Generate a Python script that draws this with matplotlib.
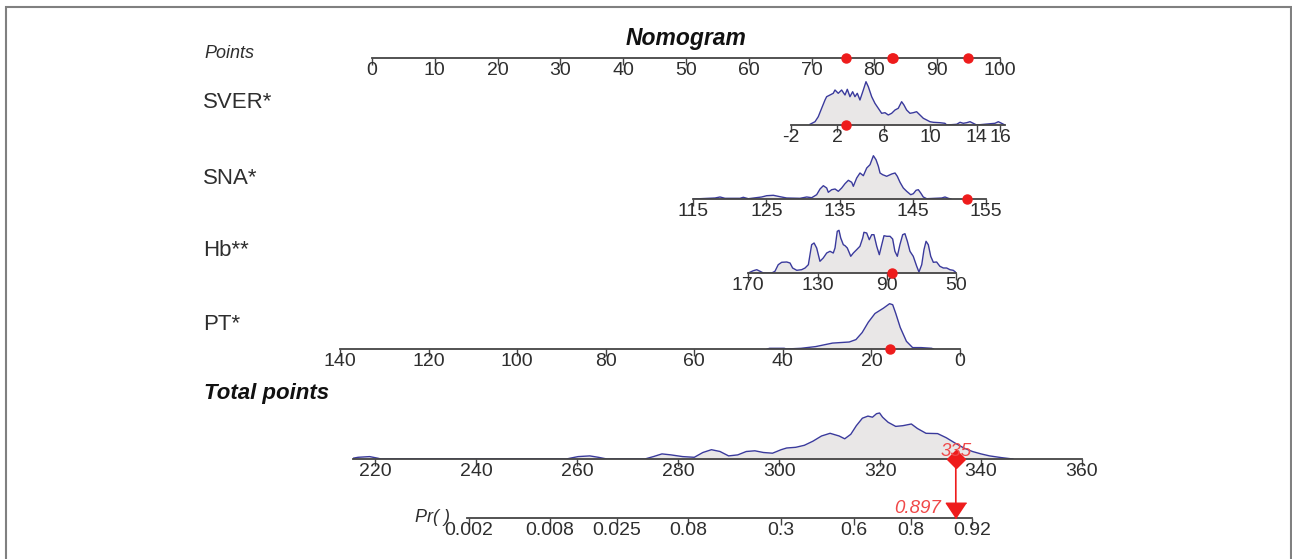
import numpy as np
import matplotlib
matplotlib.use("Agg")
import matplotlib.pyplot as plt
from matplotlib.patches import Rectangle, ConnectionPatch
from matplotlib.ticker import NullLocator

plt.rcParams['font.family'] = ['Liberation Sans', 'DejaVu Sans']
plt.rcParams['axes.unicode_minus'] = False

# Nomogram values
points_ticks = [0, 10, 20, 30, 40, 50, 60, 70, 80, 90, 100]
points_marks = [75.4, 82.8, 82.9, 94.9]

sver_ticks = [-2, 2, 6, 10, 14, 16]
sver_x = [-0.36, 0.07, 0.35, 0.64, 0.93, 1.07, 1.36, 1.64, 1.79, 2.07, 2.36, 2.65, 2.85,
          3.08, 3.31, 3.51, 3.71, 3.94, 4.23, 4.46, 4.66, 4.95, 5.23, 5.52, 5.81, 6.10,
          6.38, 6.67, 6.96, 7.24, 7.53, 7.73, 7.96, 8.25, 8.53, 8.82, 9.11, 9.40, 9.69,
          9.97, 10.26, 10.83, 11.26, 11.41, 12.27, 12.56, 12.84, 13.13, 13.42, 13.70,
          13.99, 15.57, 15.86, 16.14, 16.43]
sver_d = [0.7, 3.3, 8.3, 16.7, 25, 28.3, 30, 31.7, 35, 31.7, 35, 30, 35.7,
          28.3, 33.3, 28.3, 31.7, 25, 35, 43.3, 38.3, 28.3, 21.7, 16.7, 11.7, 12.3,
          10, 11.7, 15, 16.7, 23.3, 20, 15, 11.7, 12.3, 13.3, 10, 6.7, 5,
          3.3, 2.7, 2.3, 1.7, 0, 0.7, 2.7, 1.7, 2.3, 3.3, 1.7,
          0, 1.7, 3.3, 1.7, 0]
sver_mark = 2.7

sna_ticks = [115, 125, 135, 145, 155]
sna_x = [115.0, 117.97, 118.65, 119.33, 121.38, 121.83, 122.52, 124.34, 125.03, 125.94,
         126.85, 127.76, 129.58, 130.5, 131.18, 131.86, 132.32, 132.77, 133.23, 133.45,
         133.91, 134.37, 134.82, 135.28, 135.73, 136.19, 136.65, 136.87, 137.33, 137.78,
         138.24, 138.7, 139.15, 139.61, 139.97, 140.29, 140.52, 140.88, 141.43, 142.11,
         142.57, 142.88, 143.25, 143.7, 144.16, 144.71, 145.07, 145.44, 145.75, 146.08,
         146.43, 146.9, 148.95, 149.4, 149.85, 150.2]
sna_d = [0, 1, 2, 0.7, 0.7, 1.7, 0.3, 2, 3.3, 3.7,
         2.3, 1, 0.7, 2, 1.3, 4.3, 10, 13.3, 11, 6.7,
         9.3, 10, 7.7, 11, 15.3, 18.7, 16.7, 12.7, 21, 26,
         23.3, 31, 34.3, 43.3, 39.3, 32.7, 26, 24.3, 22.7, 25,
         26, 22.7, 16.7, 11, 7.7, 4.3, 5.3, 8.7, 9.3, 6,
         2, 0.3, 1, 2, 0.7, 0]
sna_mark = 152.45

hb_ticks = [170, 130, 90, 50]
hb_x = [170, 167.1, 165.1, 163.2, 161.3, 156.5, 154.6, 152.7, 150.7, 147.8, 145.9, 144.4,
        142.0, 139.2, 137.2, 135.3, 133.4, 132.0, 130.5, 128.6, 126.7, 124.7, 122.8,
        120.9, 119.9, 118.6, 117.6, 116.6, 115.1, 114.1, 112.8, 110.8, 109.3, 107.4,
        105.5, 103.9, 103.2, 101.6, 100.1, 98.7, 97.4, 95.8, 94.3, 92.9, 91.6, 90.0,
        88.1, 86.6, 85.3, 83.9, 82.4, 80.8, 79.5, 78.1, 76.6, 74.7, 72.7, 71.4, 69.8,
        68.5, 67.3, 66.0, 64.6, 63.1, 61.2, 59.3, 57.3, 55.4, 53.5, 51.6, 49.6]
hb_d = [0, 2.3, 3.3, 1.7, 0, 0, 1.7, 8.3, 10.7, 11, 10, 5,
        2.7, 3.3, 5, 8.3, 28.3, 30, 25, 11.7, 15, 20, 21.7,
        20, 25, 41.7, 42.7, 35, 28.3, 27.3, 25, 16.7, 20, 23.3,
        26.7, 35, 40.7, 40, 33.3, 38.3, 38.3, 26.7, 18.3, 28.3, 37.3, 36.7,
        36.7, 34, 21.7, 16.7, 28.3, 38.3, 39.3, 31.7, 21.7, 16.7, 6.7, 1, 8.3,
        23.3, 31.7, 28.3, 16.7, 10.7, 11, 6.7, 5, 5, 3.3, 2.7, 0]
hb_mark = 87.2

pt_ticks = [140, 120, 100, 80, 60, 40, 20, 0]
pt_x = [43.5, 43.0, 39.7, 39.2, 35.9, 32.6, 28.8, 25.0, 23.5, 22.1, 20.7, 19.2, 17.3,
        15.9, 15.2, 14.5, 13.5, 12.1, 10.7, 8.8, 6.4, 6.0]
pt_d = [0, 0.7, 0.7, 0, 0.7, 2.4, 5.9, 7, 9.4, 16.4, 26.8, 35.5, 40.8,
        45.3, 44.3, 35.5, 21.6, 7.7, 1.4, 1.4, 0.7, 0]
pt_mark = 15.7

total_ticks = [220, 240, 260, 280, 300, 320, 340, 360]
total_x = [214.8, 216.6, 218.9, 220.6, 221.1, 257.9, 258.5, 260.2, 262.5, 264.2, 265.9,
           273.4, 275.1, 276.8, 278.6, 280.9, 283.2, 284.9, 286.6, 288.3, 290.0, 291.8,
           293.5, 295.2, 296.9, 298.7, 300.4, 301.5, 303.3, 305.0, 306.7, 308.4, 310.1,
           311.9, 313.0, 314.2, 315.3, 316.5, 317.6, 318.5, 319.3, 319.9, 320.5, 321.6,
           323.1, 324.5, 326.2, 327.4, 329.1, 331.4, 333.1, 334.8, 336.6, 338.3, 340.0,
           341.7, 344.0, 346.3]
total_d = [0, 1.7, 2.4, 0.7, 0, 0, 0.7, 2.4, 3.1, 1.7, 0,
           0, 2.4, 5.1, 4.1, 2.4, 1.7, 6.5, 9.3, 7.5, 3.1, 4.1,
           7.5, 8.2, 6.5, 5.8, 9.3, 11, 11.7, 13.7, 17.8, 23, 25.7,
           23, 20.2, 24.7, 33.3, 40.8, 42.9, 41.8, 45.3, 46, 41.8, 36.7,
           32.6, 33.3, 35, 30.5, 25.7, 25.4, 21.3, 16.1, 11, 7.5, 5.1,
           3.1, 1.4, 0]
total_score = 335

pr_ticks = [0.002, 0.008, 0.025, 0.08, 0.3, 0.6, 0.8, 0.92]
pr_labels = ['0.002', '0.008', '0.025', '0.08', '0.3', '0.6', '0.8', '0.92']
pr_value = 0.897

FILL = '#e9e7e7'
EDGE = '#3a3a9c'
RED = '#ee1c1c'
TXT = '#2e2e2e'

W, H = 1292, 559
fig = plt.figure(figsize=(W / 100, H / 100), dpi=100)

# grey frame round the picture
fig.add_artist(Rectangle((6 / W, -0.05), 1285 / W, 1.05 - 7 / H, transform=fig.transFigure,
                         fill=False, edgecolor='#808080', linewidth=1.5))


def add_row(px_left, px_right, line_y, lo, hi, ticks, labels=None, scale=None):
    ax = fig.add_axes([px_left / W, 1 - line_y / H, (px_right - px_left) / W, 52 / H])
    if scale:
        ax.set_xscale(scale)
    ax.set_xlim(lo, hi)
    ax.set_ylim(0, 52)
    ax.patch.set_visible(False)
    for s in ['top', 'left', 'right']:
        ax.spines[s].set_visible(False)
    ax.spines['bottom'].set_color('#444444')
    ax.spines['bottom'].set_linewidth(1.3)
    ax.set_yticks([])
    ax.set_xticks(ticks)
    if labels is not None:
        ax.set_xticklabels(labels)
    ax.xaxis.set_minor_locator(NullLocator())
    ax.tick_params(axis='x', direction='out', length=5, width=1, color='#444444',
                   pad=-2, labelsize=14, labelcolor=TXT)
    return ax


def density(ax, x, d):
    ax.fill_between(x, 0, d, color=FILL, linewidth=0)
    ax.plot(x, d, color=EDGE, linewidth=1)


def mark(ax, x):
    ax.plot(x, [0] * len(x), 'o', color=RED, markersize=6.5, clip_on=False, zorder=5)


ax_pts = add_row(372, 1000, 58, 0, 100, points_ticks)
mark(ax_pts, points_marks)

ax_sver = add_row(791, 1004.6, 125, -2, 16.4, sver_ticks)
density(ax_sver, sver_x, sver_d)
mark(ax_sver, [sver_mark])

ax_sna = add_row(693.3, 986, 199, 115, 155, sna_ticks)
density(ax_sna, sna_x, sna_d)
mark(ax_sna, [sna_mark])

ax_hb = add_row(748.3, 956, 273, 170, 50, hb_ticks)
density(ax_hb, hb_x, hb_d)
mark(ax_hb, [hb_mark])

ax_pt = add_row(340, 960, 349, 140, 0, pt_ticks)
density(ax_pt, pt_x, pt_d)
mark(ax_pt, [pt_mark])

ax_tot = add_row(353, 1082, 459, 215.6, 360, total_ticks)
density(ax_tot, total_x, total_d)

ax_pr = add_row(467, 972, 518, 0.00194, 0.92, pr_ticks, pr_labels, scale='logit')

# link total points to probability
con = ConnectionPatch(xyA=(total_score, 0), coordsA=ax_tot.transData,
                      xyB=(pr_value, 0), coordsB=ax_pr.transData,
                      color=RED, linewidth=1.2, zorder=6)
fig.add_artist(con)
ax_tot.plot([total_score], [0], 'D', color=RED, markersize=9, clip_on=False, zorder=7)
ax_tot.annotate(str(total_score), (total_score, 0), xytext=(0, -1), textcoords='offset points',
                ha='center', va='bottom', color='#f04848', fontsize=13.5, style='italic',
                annotation_clip=False, zorder=8)
ax_pr.plot([pr_value], [0], marker=[(0, 0), (-0.7, 1.05), (0.7, 1.05)], color=RED,
           markersize=22, clip_on=False, zorder=7, linestyle='none')
ax_pr.annotate(f'{pr_value:.3f}', (pr_value, 0), xytext=(-11, 1), textcoords='offset points',
               ha='right', va='bottom', color='#f04848', fontsize=13.5, style='italic',
               annotation_clip=False)

# row names
fig.text(686 / W, 1 - 39 / H, 'Nomogram', ha='center', va='center', fontsize=16.5,
         fontweight='bold', style='italic', color='#111111')
fig.text(204 / W, 1 - 53 / H, 'Points', ha='left', va='center', fontsize=13,
         style='italic', color=TXT)
for name, y in [('SVER*', 103), ('SNA*', 178), ('Hb**', 250), ('PT*', 325)]:
    fig.text(203 / W, 1 - y / H, name, ha='left', va='center', fontsize=16, color=TXT)
fig.text(204 / W, 1 - 393 / H, 'Total points', ha='left', va='center', fontsize=16,
         fontweight='bold', style='italic', color='#111111')
fig.text(415 / W, 1 - 517 / H, 'Pr( )', ha='left', va='center', fontsize=13,
         style='italic', color=TXT)

fig.savefig('out.png', dpi=100)
